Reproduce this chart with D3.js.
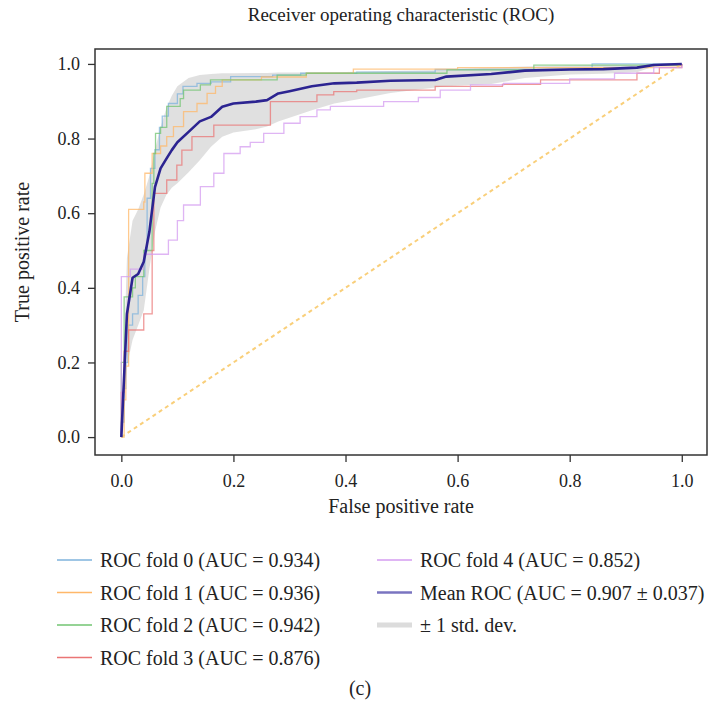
<!DOCTYPE html>
<html>
<head>
<meta charset="utf-8">
<script src="https://cdn.jsdelivr.net/npm/d3@7"></script>
<style>
  body { margin: 0; background: #fff; }
  svg { display: block; }
  text { font-family: "Liberation Serif", "Times New Roman", serif; fill: #222; }
</style>
</head>
<body>
<div id="chart"></div>
<script>
// ticks
const xTicks = [0, 0.2, 0.4, 0.6, 0.8, 1.0];
const yTicks = [0, 0.2, 0.4, 0.6, 0.8, 1.0];

// per-fold ROC corner points [fpr, tpr]
const fold0 = [[0,0],[0,0.04],[0.005,0.13],[0.008,0.2],[0.012,0.3],[0.02,0.33],[0.03,0.38],[0.038,0.43],[0.042,0.5],[0.046,0.64],[0.052,0.72],[0.06,0.77],[0.068,0.83],[0.073,0.86],[0.084,0.894],[0.1,0.92],[0.11,0.94],[0.135,0.948],[0.16,0.952],[0.195,0.966],[0.27,0.97],[0.32,0.975],[0.42,0.978],[0.56,0.985],[0.84,1.0],[1,1]];
const fold1 = [[0,0],[0.005,0.1],[0.008,0.19],[0.013,0.61],[0.04,0.63],[0.042,0.707],[0.055,0.76],[0.07,0.78],[0.081,0.805],[0.093,0.832],[0.111,0.872],[0.135,0.894],[0.153,0.921],[0.168,0.94],[0.18,0.957],[0.25,0.965],[0.33,0.975],[0.414,0.986],[0.6,0.99],[0.95,0.995],[1,1]];
const fold2 = [[0,0],[0,0.2],[0.005,0.376],[0.02,0.4],[0.025,0.43],[0.04,0.5],[0.055,0.68],[0.058,0.76],[0.061,0.814],[0.07,0.83],[0.081,0.886],[0.105,0.907],[0.111,0.93],[0.141,0.944],[0.159,0.957],[0.278,0.97],[0.33,0.975],[0.581,0.984],[0.736,0.997],[1,1]];
const fold3 = [[0,0],[0,0.12],[0.005,0.23],[0.013,0.287],[0.04,0.33],[0.055,0.5],[0.058,0.653],[0.081,0.689],[0.099,0.729],[0.108,0.769],[0.126,0.805],[0.165,0.836],[0.266,0.899],[0.349,0.917],[0.379,0.926],[0.42,0.93],[0.56,0.94],[0.68,0.945],[0.748,0.957],[0.92,0.975],[0.96,0.99],[1,1]];
const fold4 = [[0,0],[0,0.43],[0.016,0.45],[0.04,0.49],[0.084,0.528],[0.1,0.58],[0.111,0.622],[0.141,0.671],[0.165,0.707],[0.183,0.76],[0.212,0.778],[0.23,0.79],[0.254,0.814],[0.29,0.841],[0.319,0.859],[0.349,0.877],[0.373,0.886],[0.468,0.899],[0.53,0.91],[0.569,0.93],[0.623,0.944],[0.682,0.948],[0.8,0.96],[0.88,0.975],[0.95,0.99],[1,1]];

// mean ROC and +/- 1 std band on a shared fpr grid
const meanFpr = [0,0.01,0.02,0.03,0.04,0.05,0.06,0.07,0.08,0.09,0.10,0.12,0.14,0.16,0.18,0.20,0.24,0.26,0.28,0.30,0.34,0.38,0.42,0.48,0.56,0.58,0.66,0.72,0.80,0.86,0.92,0.95,1.0];
const meanTpr = [0,0.33,0.427,0.437,0.47,0.55,0.67,0.72,0.745,0.769,0.79,0.818,0.846,0.858,0.885,0.894,0.899,0.903,0.921,0.927,0.94,0.948,0.95,0.955,0.957,0.966,0.973,0.982,0.985,0.986,0.99,0.997,1.0];
const upperTpr = [0,0.48,0.58,0.61,0.65,0.70,0.77,0.83,0.88,0.915,0.94,0.962,0.97,0.973,0.975,0.975,0.976,0.976,0.977,0.977,0.977,0.978,0.979,0.981,0.983,0.985,0.99,0.993,0.996,0.997,0.998,1.0,1.0];
const lowerTpr = [0,0.19,0.26,0.3,0.34,0.45,0.55,0.615,0.648,0.668,0.68,0.71,0.742,0.778,0.805,0.816,0.825,0.832,0.846,0.856,0.876,0.894,0.905,0.922,0.937,0.94,0.946,0.962,0.972,0.974,0.978,0.993,1.0];

const chance = [[0,0],[1,1]];

const folds = [
  { name: 'ROC fold 0 (AUC = 0.934)', color: '#7fb3dc', pts: fold0 },
  { name: 'ROC fold 1 (AUC = 0.936)', color: '#ffb86a', pts: fold1 },
  { name: 'ROC fold 2 (AUC = 0.942)', color: '#72c472', pts: fold2 },
  { name: 'ROC fold 3 (AUC = 0.876)', color: '#ea7575', pts: fold3 },
  { name: 'ROC fold 4 (AUC = 0.852)', color: '#d49cf0', pts: fold4 }
];
const meanLabel = 'Mean ROC (AUC = 0.907 \u00b1 0.037)';
const stdLabel = '\u00b1 1 std. dev.';

const W = 716, H = 708;
const svg = d3.select('#chart').append('svg')
    .attr('width', W)
    .attr('height', H);

var x = d3.scaleLinear().domain([-0.047, 1.045]).range([95, 707]);
var y = d3.scaleLinear().domain([-0.048, 1.040]).range([455, 49]);

// std band
const band = meanFpr.map((f, i) => [f, lowerTpr[i], upperTpr[i]]);
svg.append('path')
    .attr('fill', '#d6d6d6')
    .attr('fill-opacity', 0.75)
    .attr('d', d3.area()
        .x(d => x(d[0]))
        .y0(d => y(d[1]))
        .y1(d => y(d[2]))(band));

// folds
const stepLine = d3.line()
    .x(d => x(d[0]))
    .y(d => y(d[1]))
    .curve(d3.curveStepAfter);
folds.forEach(f => {
  svg.append('path')
      .attr('fill', 'none')
      .attr('stroke', f.color)
      .attr('stroke-opacity', 0.75)
      .attr('stroke-width', 1.3)
      .attr('d', stepLine(f.pts));
});

// chance line
svg.append('path')
    .attr('fill', 'none')
    .attr('stroke', '#f9cf7a')
    .attr('stroke-width', 2)
    .attr('stroke-dasharray', '4,3.5')
    .attr('d', d3.line().x(d => x(d[0])).y(d => y(d[1]))(chance));

// mean
svg.append('path')
    .attr('fill', 'none')
    .attr('stroke', '#2c2491')
    .attr('stroke-width', 2.6)
    .attr('stroke-linejoin', 'round')
    .attr('d', d3.line().x(d => x(d[0])).y((d, i) => y(meanTpr[i]))(meanFpr.map(f => [f])));

// axes
const fmt = d3.format('.1f');
svg.append('g')
    .attr('transform', 'translate(0,455)')
    .call(d3.axisBottom(x).tickValues(xTicks).tickFormat(fmt).tickSize(7).tickPadding(12))
    .call(g => g.select('.domain').remove())
    .call(g => g.selectAll('line').attr('stroke', '#333').attr('stroke-width', 1.3))
    .call(g => g.selectAll('text').attr('font-size', 18).attr('font-family', null).attr('fill', '#222'));

svg.append('g')
    .attr('transform', 'translate(95,0)')
    .call(d3.axisLeft(y).tickValues(yTicks).tickFormat(fmt).tickSize(7).tickPadding(8))
    .call(g => g.select('.domain').remove())
    .call(g => g.selectAll('line').attr('stroke', '#333').attr('stroke-width', 1.3))
    .call(g => g.selectAll('text').attr('font-size', 18).attr('font-family', null).attr('fill', '#222'));

svg.append('rect')
    .attr('x', 95).attr('y', 49)
    .attr('width', 612).attr('height', 406)
    .attr('fill', 'none')
    .attr('stroke', '#333')
    .attr('stroke-width', 1.5);

// titles
svg.append('text')
    .attr('x', 401).attr('y', 21)
    .attr('text-anchor', 'middle')
    .attr('font-size', 19)
    .text('Receiver operating characteristic (ROC)');
svg.append('text')
    .attr('x', 401).attr('y', 513)
    .attr('text-anchor', 'middle')
    .attr('font-size', 20)
    .text('False positive rate');
svg.append('text')
    .attr('transform', 'translate(29,252) rotate(-90)')
    .attr('text-anchor', 'middle')
    .attr('font-size', 20)
    .text('True positive rate');

// legend
const legendItems = [
  { label: folds[0].name, color: folds[0].color, w: 1.5, col: 0, row: 0 },
  { label: folds[1].name, color: folds[1].color, w: 1.5, col: 0, row: 1 },
  { label: folds[2].name, color: folds[2].color, w: 1.5, col: 0, row: 2 },
  { label: folds[3].name, color: folds[3].color, w: 1.5, col: 0, row: 3 },
  { label: folds[4].name, color: folds[4].color, w: 1.5, col: 1, row: 0 },
  { label: meanLabel, color: '#7a74c0', w: 2.5, col: 1, row: 1 },
  { label: stdLabel, color: '#dcdcdc', w: 5, col: 1, row: 2 }
];
const colX = [57, 377];
const legend = svg.append('g');
legendItems.forEach(d => {
  const ly = 560 + d.row * 32.5;
  legend.append('line')
      .attr('x1', colX[d.col]).attr('x2', colX[d.col] + 35)
      .attr('y1', ly).attr('y2', ly)
      .attr('stroke', d.color)
      .attr('stroke-width', d.w);
  legend.append('text')
      .attr('x', colX[d.col] + 43).attr('y', ly + 7)
      .attr('font-size', 20)
      .text(d.label);
});

svg.append('text')
    .attr('x', 360).attr('y', 695)
    .attr('text-anchor', 'middle')
    .attr('font-size', 20)
    .text('(c)');
</script>
</body>
</html>
